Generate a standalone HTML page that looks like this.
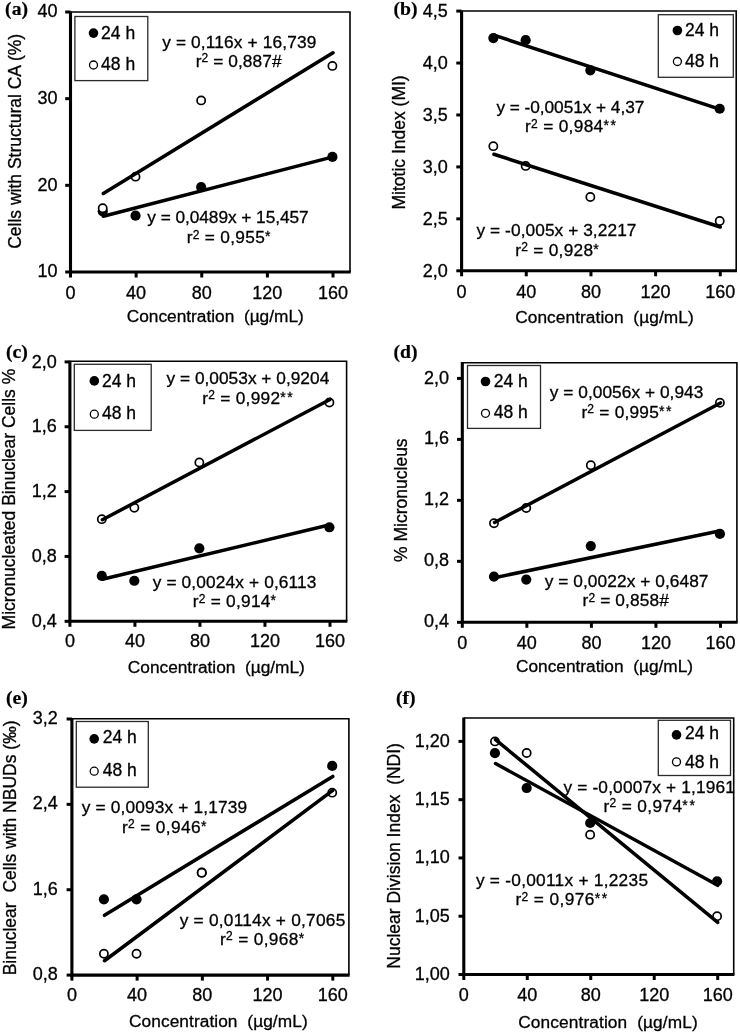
<!DOCTYPE html>
<html><head><meta charset="utf-8">
<style>
html,body{margin:0;padding:0;background:#fff;}
body{width:740px;height:1034px;overflow:hidden;}
svg{display:block;will-change:transform;}
text{font-family:"Liberation Sans",sans-serif;fill:#000;stroke:#000;stroke-width:0.3px;}
text.pl{font-family:"Liberation Serif",serif;font-weight:bold;stroke-width:0.2px;}
</style></head><body>
<svg width="740" height="1034" viewBox="0 0 740 1034">
<rect width="740" height="1034" fill="#fff"/>
<g id="pa">
<path d="M70.50 12.00 H350.00 V272.00" fill="none" stroke="#000" stroke-width="1.6"/>
<path d="M70.50 11.40 V272.00 H350.75" fill="none" stroke="#000" stroke-width="3.1"/>
<line x1="65.20" y1="272.00" x2="70.50" y2="272.00" stroke="#000" stroke-width="3"/>
<text x="57.50" y="277.40" font-size="18" text-anchor="end">10</text>
<line x1="65.20" y1="185.33" x2="70.50" y2="185.33" stroke="#000" stroke-width="3"/>
<text x="57.50" y="190.73" font-size="18" text-anchor="end">20</text>
<line x1="65.20" y1="98.67" x2="70.50" y2="98.67" stroke="#000" stroke-width="3"/>
<text x="57.50" y="104.07" font-size="18" text-anchor="end">30</text>
<line x1="65.20" y1="12.00" x2="70.50" y2="12.00" stroke="#000" stroke-width="3"/>
<text x="57.50" y="17.40" font-size="18" text-anchor="end">40</text>
<line x1="70.50" y1="272.00" x2="70.50" y2="277.50" stroke="#000" stroke-width="3"/>
<text x="70.50" y="298.60" font-size="18" text-anchor="middle">0</text>
<line x1="136.12" y1="272.00" x2="136.12" y2="277.50" stroke="#000" stroke-width="3"/>
<text x="136.12" y="298.60" font-size="18" text-anchor="middle">40</text>
<line x1="201.75" y1="272.00" x2="201.75" y2="277.50" stroke="#000" stroke-width="3"/>
<text x="201.75" y="298.60" font-size="18" text-anchor="middle">80</text>
<line x1="267.38" y1="272.00" x2="267.38" y2="277.50" stroke="#000" stroke-width="3"/>
<text x="267.38" y="298.60" font-size="18" text-anchor="middle">120</text>
<line x1="333.00" y1="272.00" x2="333.00" y2="277.50" stroke="#000" stroke-width="3"/>
<text x="333.00" y="298.60" font-size="18" text-anchor="middle">160</text>
<text x="126.70" y="321.90" font-size="17.3">Concentration&#160;&#160;(µg/mL)</text>
<text transform="translate(20.80,248.80) rotate(-90)" font-size="17.5" x="0" y="0">Cells with Structural CA (%)</text>
<text x="5.10" y="15.20" class="pl" font-size="19.7">(a)</text>
<circle cx="102.71" cy="211.33" r="5.1" fill="#000"/>
<circle cx="135.53" cy="215.67" r="5.1" fill="#000"/>
<circle cx="201.15" cy="187.07" r="5.1" fill="#000"/>
<circle cx="332.40" cy="156.91" r="5.1" fill="#000"/>
<circle cx="102.71" cy="208.13" r="4.1" fill="#fff" stroke="#000" stroke-width="1.7"/>
<circle cx="135.53" cy="176.67" r="4.1" fill="#fff" stroke="#000" stroke-width="1.7"/>
<circle cx="201.15" cy="100.40" r="4.1" fill="#fff" stroke="#000" stroke-width="1.7"/>
<circle cx="332.40" cy="65.91" r="4.1" fill="#fff" stroke="#000" stroke-width="1.7"/>
<line x1="103.31" y1="193.49" x2="333.00" y2="52.74" stroke="#000" stroke-width="3.5" stroke-linecap="round"/>
<line x1="103.31" y1="216.23" x2="333.00" y2="156.90" stroke="#000" stroke-width="3.5" stroke-linecap="round"/>
<rect x="74.90" y="16.50" width="72.90" height="64.10" fill="#fff" stroke="#2a2a2a" stroke-width="1.3"/>
<circle cx="93.50" cy="33.10" r="4.8" fill="#000"/>
<circle cx="93.50" cy="65.00" r="4.0" fill="#fff" stroke="#000" stroke-width="1.3"/>
<text x="101.10" y="38.50" font-size="17.5">24 h</text>
<text x="101.10" y="70.40" font-size="17.5">48 h</text>
<text x="162.20" y="47.60" font-size="17.3" textLength="154.09" lengthAdjust="spacing">y = 0,116x + 16,739</text>
<text x="195.69" y="66.70" font-size="17.3" textLength="85.85" lengthAdjust="spacing">r<tspan font-size="12.0" dy="-4.4">2</tspan><tspan dy="4.4"> = 0,887#</tspan></text>
<text x="147.30" y="223.20" font-size="17.3" textLength="161.39" lengthAdjust="spacing">y = 0,0489x + 15,457</text>
<text x="186.69" y="243.00" font-size="17.3" textLength="85.13" lengthAdjust="spacing">r<tspan font-size="12.0" dy="-4.4">2</tspan><tspan dy="4.4"> = 0,955</tspan><tspan font-size="14.0" dy="-1.8" letter-spacing="1.25">*</tspan></text>
</g>
<g id="pb">
<path d="M461.60 11.00 H736.20 V270.80" fill="none" stroke="#000" stroke-width="1.6"/>
<path d="M461.60 10.40 V270.80 H736.95" fill="none" stroke="#000" stroke-width="3.1"/>
<line x1="456.30" y1="270.80" x2="461.60" y2="270.80" stroke="#000" stroke-width="3"/>
<text x="447.80" y="276.60" font-size="18" text-anchor="end">2,0</text>
<line x1="456.30" y1="218.86" x2="461.60" y2="218.86" stroke="#000" stroke-width="3"/>
<text x="447.80" y="224.66" font-size="18" text-anchor="end">2,5</text>
<line x1="456.30" y1="166.92" x2="461.60" y2="166.92" stroke="#000" stroke-width="3"/>
<text x="447.80" y="172.72" font-size="18" text-anchor="end">3,0</text>
<line x1="456.30" y1="114.98" x2="461.60" y2="114.98" stroke="#000" stroke-width="3"/>
<text x="447.80" y="120.78" font-size="18" text-anchor="end">3,5</text>
<line x1="456.30" y1="63.04" x2="461.60" y2="63.04" stroke="#000" stroke-width="3"/>
<text x="447.80" y="68.84" font-size="18" text-anchor="end">4,0</text>
<line x1="456.30" y1="11.10" x2="461.60" y2="11.10" stroke="#000" stroke-width="3"/>
<text x="447.80" y="16.90" font-size="18" text-anchor="end">4,5</text>
<line x1="461.60" y1="270.80" x2="461.60" y2="276.30" stroke="#000" stroke-width="3"/>
<text x="461.60" y="297.60" font-size="18" text-anchor="middle">0</text>
<line x1="526.27" y1="270.80" x2="526.27" y2="276.30" stroke="#000" stroke-width="3"/>
<text x="526.27" y="297.60" font-size="18" text-anchor="middle">40</text>
<line x1="590.95" y1="270.80" x2="590.95" y2="276.30" stroke="#000" stroke-width="3"/>
<text x="590.95" y="297.60" font-size="18" text-anchor="middle">80</text>
<line x1="655.62" y1="270.80" x2="655.62" y2="276.30" stroke="#000" stroke-width="3"/>
<text x="655.62" y="297.60" font-size="18" text-anchor="middle">120</text>
<line x1="720.30" y1="270.80" x2="720.30" y2="276.30" stroke="#000" stroke-width="3"/>
<text x="720.30" y="297.60" font-size="18" text-anchor="middle">160</text>
<text x="515.20" y="323.10" font-size="17.3" textLength="178.46" lengthAdjust="spacing">Concentration&#160;&#160;(µg/mL)</text>
<text transform="translate(405.00,209.50) rotate(-90)" font-size="17.5" x="0" y="0">Mitotic Index (MI)</text>
<text x="393.40" y="15.30" class="pl" font-size="19.7">(b)</text>
<circle cx="493.34" cy="38.11" r="5.1" fill="#000"/>
<circle cx="525.67" cy="40.19" r="5.1" fill="#000"/>
<circle cx="590.35" cy="70.31" r="5.1" fill="#000"/>
<circle cx="719.70" cy="108.75" r="5.1" fill="#000"/>
<circle cx="493.34" cy="146.14" r="4.1" fill="#fff" stroke="#000" stroke-width="1.7"/>
<circle cx="525.67" cy="165.88" r="4.1" fill="#fff" stroke="#000" stroke-width="1.7"/>
<circle cx="590.35" cy="197.05" r="4.1" fill="#fff" stroke="#000" stroke-width="1.7"/>
<circle cx="719.70" cy="220.94" r="4.1" fill="#fff" stroke="#000" stroke-width="1.7"/>
<line x1="493.94" y1="35.20" x2="720.30" y2="109.37" stroke="#000" stroke-width="3.5" stroke-linecap="round"/>
<line x1="493.94" y1="154.28" x2="720.30" y2="226.99" stroke="#000" stroke-width="3.5" stroke-linecap="round"/>
<rect x="658.30" y="14.70" width="75.00" height="62.60" fill="#fff" stroke="#2a2a2a" stroke-width="1.3"/>
<circle cx="677.40" cy="30.50" r="4.8" fill="#000"/>
<circle cx="677.40" cy="61.50" r="4.0" fill="#fff" stroke="#000" stroke-width="1.3"/>
<text x="685.00" y="36.00" font-size="17.5">24 h</text>
<text x="685.00" y="67.00" font-size="17.5">48 h</text>
<text x="496.50" y="113.00" font-size="17.3" textLength="147.81" lengthAdjust="spacing">y = -0,0051x + 4,37</text>
<text x="524.99" y="132.10" font-size="17.3" textLength="92.23" lengthAdjust="spacing">r<tspan font-size="12.0" dy="-4.4">2</tspan><tspan dy="4.4"> = 0,984</tspan><tspan font-size="14.0" dy="-1.8" letter-spacing="1.25">**</tspan></text>
<text x="476.50" y="236.10" font-size="17.3" textLength="159.94" lengthAdjust="spacing">y = -0,005x + 3,2217</text>
<text x="515.19" y="255.50" font-size="17.3" textLength="84.83" lengthAdjust="spacing">r<tspan font-size="12.0" dy="-4.4">2</tspan><tspan dy="4.4"> = 0,928</tspan><tspan font-size="14.0" dy="-1.8" letter-spacing="1.25">*</tspan></text>
</g>
<g id="pc">
<path d="M69.90 361.30 H346.60 V621.30" fill="none" stroke="#000" stroke-width="1.6"/>
<path d="M69.90 360.70 V621.30 H347.35" fill="none" stroke="#000" stroke-width="3.1"/>
<line x1="64.60" y1="621.30" x2="69.90" y2="621.30" stroke="#000" stroke-width="3"/>
<text x="56.80" y="627.00" font-size="18" text-anchor="end">0,4</text>
<line x1="64.60" y1="556.45" x2="69.90" y2="556.45" stroke="#000" stroke-width="3"/>
<text x="56.80" y="562.15" font-size="18" text-anchor="end">0,8</text>
<line x1="64.60" y1="491.60" x2="69.90" y2="491.60" stroke="#000" stroke-width="3"/>
<text x="56.80" y="497.30" font-size="18" text-anchor="end">1,2</text>
<line x1="64.60" y1="426.75" x2="69.90" y2="426.75" stroke="#000" stroke-width="3"/>
<text x="56.80" y="432.45" font-size="18" text-anchor="end">1,6</text>
<line x1="64.60" y1="361.90" x2="69.90" y2="361.90" stroke="#000" stroke-width="3"/>
<text x="56.80" y="367.60" font-size="18" text-anchor="end">2,0</text>
<line x1="69.90" y1="621.30" x2="69.90" y2="626.80" stroke="#000" stroke-width="3"/>
<text x="69.90" y="647.40" font-size="18" text-anchor="middle">0</text>
<line x1="134.93" y1="621.30" x2="134.93" y2="626.80" stroke="#000" stroke-width="3"/>
<text x="134.93" y="647.40" font-size="18" text-anchor="middle">40</text>
<line x1="199.95" y1="621.30" x2="199.95" y2="626.80" stroke="#000" stroke-width="3"/>
<text x="199.95" y="647.40" font-size="18" text-anchor="middle">80</text>
<line x1="264.98" y1="621.30" x2="264.98" y2="626.80" stroke="#000" stroke-width="3"/>
<text x="264.98" y="647.40" font-size="18" text-anchor="middle">120</text>
<line x1="330.00" y1="621.30" x2="330.00" y2="626.80" stroke="#000" stroke-width="3"/>
<text x="330.00" y="647.40" font-size="18" text-anchor="middle">160</text>
<text x="127.80" y="672.70" font-size="17.3">Concentration&#160;&#160;(µg/mL)</text>
<text transform="translate(15.30,629.40) rotate(-90)" font-size="17.5" x="0" y="0">Micronucleated Binuclear Cells %</text>
<text x="6.00" y="358.10" class="pl" font-size="19.7">(c)</text>
<circle cx="101.81" cy="575.90" r="5.1" fill="#000"/>
<circle cx="134.33" cy="580.77" r="5.1" fill="#000"/>
<circle cx="199.35" cy="548.34" r="5.1" fill="#000"/>
<circle cx="329.40" cy="527.27" r="5.1" fill="#000"/>
<circle cx="101.81" cy="519.16" r="4.1" fill="#fff" stroke="#000" stroke-width="1.7"/>
<circle cx="134.33" cy="507.81" r="4.1" fill="#fff" stroke="#000" stroke-width="1.7"/>
<circle cx="199.35" cy="462.42" r="4.1" fill="#fff" stroke="#000" stroke-width="1.7"/>
<circle cx="329.40" cy="402.43" r="4.1" fill="#fff" stroke="#000" stroke-width="1.7"/>
<line x1="102.41" y1="519.74" x2="330.00" y2="399.45" stroke="#000" stroke-width="3.5" stroke-linecap="round"/>
<line x1="102.41" y1="579.26" x2="330.00" y2="524.79" stroke="#000" stroke-width="3.5" stroke-linecap="round"/>
<rect x="74.30" y="364.30" width="76.90" height="66.10" fill="#fff" stroke="#2a2a2a" stroke-width="1.3"/>
<circle cx="94.30" cy="380.90" r="4.8" fill="#000"/>
<circle cx="94.30" cy="414.20" r="4.0" fill="#fff" stroke="#000" stroke-width="1.3"/>
<text x="102.00" y="386.60" font-size="17.5">24 h</text>
<text x="102.00" y="419.40" font-size="17.5">48 h</text>
<text x="166.50" y="384.00" font-size="17.3" textLength="162.75" lengthAdjust="spacing">y = 0,0053x + 0,9204</text>
<text x="202.29" y="403.80" font-size="17.3" textLength="91.63" lengthAdjust="spacing">r<tspan font-size="12.0" dy="-4.4">2</tspan><tspan dy="4.4"> = 0,992</tspan><tspan font-size="14.0" dy="-1.8" letter-spacing="1.25">**</tspan></text>
<text x="152.70" y="587.80" font-size="17.3" textLength="163.72" lengthAdjust="spacing">y = 0,0024x + 0,6113</text>
<text x="192.69" y="606.90" font-size="17.3" textLength="84.63" lengthAdjust="spacing">r<tspan font-size="12.0" dy="-4.4">2</tspan><tspan dy="4.4"> = 0,914</tspan><tspan font-size="14.0" dy="-1.8" letter-spacing="1.25">*</tspan></text>
</g>
<g id="pd">
<path d="M462.30 362.70 H736.90 V622.30" fill="none" stroke="#000" stroke-width="1.6"/>
<path d="M462.30 362.10 V622.30 H737.65" fill="none" stroke="#000" stroke-width="3.1"/>
<line x1="457.00" y1="622.30" x2="462.30" y2="622.30" stroke="#000" stroke-width="3"/>
<text x="449.10" y="627.40" font-size="18" text-anchor="end">0,4</text>
<line x1="457.00" y1="561.32" x2="462.30" y2="561.32" stroke="#000" stroke-width="3"/>
<text x="449.10" y="566.42" font-size="18" text-anchor="end">0,8</text>
<line x1="457.00" y1="500.35" x2="462.30" y2="500.35" stroke="#000" stroke-width="3"/>
<text x="449.10" y="505.45" font-size="18" text-anchor="end">1,2</text>
<line x1="457.00" y1="439.38" x2="462.30" y2="439.38" stroke="#000" stroke-width="3"/>
<text x="449.10" y="444.48" font-size="18" text-anchor="end">1,6</text>
<line x1="457.00" y1="378.40" x2="462.30" y2="378.40" stroke="#000" stroke-width="3"/>
<text x="449.10" y="383.50" font-size="18" text-anchor="end">2,0</text>
<line x1="462.30" y1="622.30" x2="462.30" y2="627.80" stroke="#000" stroke-width="3"/>
<text x="462.30" y="649.00" font-size="18" text-anchor="middle">0</text>
<line x1="526.85" y1="622.30" x2="526.85" y2="627.80" stroke="#000" stroke-width="3"/>
<text x="526.85" y="649.00" font-size="18" text-anchor="middle">40</text>
<line x1="591.40" y1="622.30" x2="591.40" y2="627.80" stroke="#000" stroke-width="3"/>
<text x="591.40" y="649.00" font-size="18" text-anchor="middle">80</text>
<line x1="655.95" y1="622.30" x2="655.95" y2="627.80" stroke="#000" stroke-width="3"/>
<text x="655.95" y="649.00" font-size="18" text-anchor="middle">120</text>
<line x1="720.50" y1="622.30" x2="720.50" y2="627.80" stroke="#000" stroke-width="3"/>
<text x="720.50" y="649.00" font-size="18" text-anchor="middle">160</text>
<text x="516.00" y="671.90" font-size="17.3">Concentration&#160;&#160;(µg/mL)</text>
<text transform="translate(406.70,561.90) rotate(-90)" font-size="17.5" x="0" y="0">% Micronucleus</text>
<text x="393.40" y="358.10" class="pl" font-size="19.7">(d)</text>
<circle cx="493.97" cy="576.57" r="5.1" fill="#000"/>
<circle cx="526.25" cy="579.62" r="5.1" fill="#000"/>
<circle cx="590.80" cy="546.08" r="5.1" fill="#000"/>
<circle cx="719.90" cy="533.89" r="5.1" fill="#000"/>
<circle cx="493.97" cy="523.22" r="4.1" fill="#fff" stroke="#000" stroke-width="1.7"/>
<circle cx="526.25" cy="507.97" r="4.1" fill="#fff" stroke="#000" stroke-width="1.7"/>
<circle cx="590.80" cy="465.29" r="4.1" fill="#fff" stroke="#000" stroke-width="1.7"/>
<circle cx="719.90" cy="402.79" r="4.1" fill="#fff" stroke="#000" stroke-width="1.7"/>
<line x1="494.57" y1="522.45" x2="720.50" y2="402.94" stroke="#000" stroke-width="3.5" stroke-linecap="round"/>
<line x1="494.57" y1="577.68" x2="720.50" y2="530.73" stroke="#000" stroke-width="3.5" stroke-linecap="round"/>
<rect x="467.50" y="365.50" width="73.00" height="62.90" fill="#fff" stroke="#2a2a2a" stroke-width="1.3"/>
<circle cx="485.50" cy="381.50" r="4.8" fill="#000"/>
<circle cx="485.50" cy="413.30" r="4.0" fill="#fff" stroke="#000" stroke-width="1.3"/>
<text x="493.80" y="386.50" font-size="17.5">24 h</text>
<text x="493.80" y="417.80" font-size="17.5">48 h</text>
<text x="549.70" y="397.90" font-size="17.3" textLength="153.66" lengthAdjust="spacing">y = 0,0056x + 0,943</text>
<text x="581.39" y="417.50" font-size="17.3" textLength="91.23" lengthAdjust="spacing">r<tspan font-size="12.0" dy="-4.4">2</tspan><tspan dy="4.4"> = 0,995</tspan><tspan font-size="14.0" dy="-1.8" letter-spacing="1.25">**</tspan></text>
<text x="544.70" y="587.00" font-size="17.3" textLength="163.79" lengthAdjust="spacing">y = 0,0022x + 0,6487</text>
<text x="582.49" y="606.10" font-size="17.3" textLength="86.45" lengthAdjust="spacing">r<tspan font-size="12.0" dy="-4.4">2</tspan><tspan dy="4.4"> = 0,858#</tspan></text>
</g>
<g id="pe">
<path d="M71.90 718.70 H348.90 V975.10" fill="none" stroke="#000" stroke-width="1.6"/>
<path d="M71.90 718.10 V975.10 H349.65" fill="none" stroke="#000" stroke-width="3.1"/>
<line x1="66.60" y1="975.10" x2="71.90" y2="975.10" stroke="#000" stroke-width="3"/>
<text x="57.90" y="980.10" font-size="18" text-anchor="end">0,8</text>
<line x1="66.60" y1="889.73" x2="71.90" y2="889.73" stroke="#000" stroke-width="3"/>
<text x="57.90" y="894.73" font-size="18" text-anchor="end">1,6</text>
<line x1="66.60" y1="804.37" x2="71.90" y2="804.37" stroke="#000" stroke-width="3"/>
<text x="57.90" y="809.37" font-size="18" text-anchor="end">2,4</text>
<line x1="66.60" y1="719.00" x2="71.90" y2="719.00" stroke="#000" stroke-width="3"/>
<text x="57.90" y="724.00" font-size="18" text-anchor="end">3,2</text>
<line x1="71.90" y1="975.10" x2="71.90" y2="980.60" stroke="#000" stroke-width="3"/>
<text x="71.90" y="1001.10" font-size="18" text-anchor="middle">0</text>
<line x1="137.12" y1="975.10" x2="137.12" y2="980.60" stroke="#000" stroke-width="3"/>
<text x="137.12" y="1001.10" font-size="18" text-anchor="middle">40</text>
<line x1="202.35" y1="975.10" x2="202.35" y2="980.60" stroke="#000" stroke-width="3"/>
<text x="202.35" y="1001.10" font-size="18" text-anchor="middle">80</text>
<line x1="267.57" y1="975.10" x2="267.57" y2="980.60" stroke="#000" stroke-width="3"/>
<text x="267.57" y="1001.10" font-size="18" text-anchor="middle">120</text>
<line x1="332.80" y1="975.10" x2="332.80" y2="980.60" stroke="#000" stroke-width="3"/>
<text x="332.80" y="1001.10" font-size="18" text-anchor="middle">160</text>
<text x="129.00" y="1026.70" font-size="17.3" textLength="178.66" lengthAdjust="spacing">Concentration&#160;&#160;(µg/mL)</text>
<text transform="translate(15.90,975.30) rotate(-90)" font-size="17.5" x="0" y="0">Binuclear&#160; Cells with NBUDs (‰)</text>
<text x="6.00" y="704.10" class="pl" font-size="19.7">(e)</text>
<circle cx="103.91" cy="899.34" r="5.1" fill="#000"/>
<circle cx="136.53" cy="899.34" r="5.1" fill="#000"/>
<circle cx="201.75" cy="872.66" r="5.1" fill="#000"/>
<circle cx="332.20" cy="765.95" r="5.1" fill="#000"/>
<circle cx="103.91" cy="953.76" r="4.1" fill="#fff" stroke="#000" stroke-width="1.7"/>
<circle cx="136.53" cy="953.76" r="4.1" fill="#fff" stroke="#000" stroke-width="1.7"/>
<circle cx="201.75" cy="872.66" r="4.1" fill="#fff" stroke="#000" stroke-width="1.7"/>
<circle cx="332.20" cy="792.63" r="4.1" fill="#fff" stroke="#000" stroke-width="1.7"/>
<line x1="104.51" y1="915.35" x2="332.80" y2="776.42" stroke="#000" stroke-width="3.5" stroke-linecap="round"/>
<line x1="104.51" y1="960.75" x2="332.80" y2="790.44" stroke="#000" stroke-width="3.5" stroke-linecap="round"/>
<rect x="76.30" y="721.50" width="72.00" height="65.70" fill="#fff" stroke="#2a2a2a" stroke-width="1.3"/>
<circle cx="94.20" cy="738.90" r="4.8" fill="#000"/>
<circle cx="94.20" cy="771.20" r="4.0" fill="#fff" stroke="#000" stroke-width="1.3"/>
<text x="102.70" y="743.40" font-size="17.5">24 h</text>
<text x="102.70" y="775.80" font-size="17.5">48 h</text>
<text x="81.70" y="813.30" font-size="17.3" textLength="165.49" lengthAdjust="spacing">y = 0,0093x + 1,1739</text>
<text x="121.89" y="832.50" font-size="17.3" textLength="85.73" lengthAdjust="spacing">r<tspan font-size="12.0" dy="-4.4">2</tspan><tspan dy="4.4"> = 0,946</tspan><tspan font-size="14.0" dy="-1.8" letter-spacing="1.25">*</tspan></text>
<text x="179.70" y="925.80" font-size="17.3" textLength="165.55" lengthAdjust="spacing">y = 0,0114x + 0,7065</text>
<text x="219.89" y="944.80" font-size="17.3" textLength="85.53" lengthAdjust="spacing">r<tspan font-size="12.0" dy="-4.4">2</tspan><tspan dy="4.4"> = 0,968</tspan><tspan font-size="14.0" dy="-1.8" letter-spacing="1.25">*</tspan></text>
</g>
<g id="pf">
<path d="M463.80 718.00 H733.70 V974.50" fill="none" stroke="#000" stroke-width="1.6"/>
<path d="M463.80 717.40 V974.50 H734.45" fill="none" stroke="#000" stroke-width="3.1"/>
<line x1="458.50" y1="974.50" x2="463.80" y2="974.50" stroke="#000" stroke-width="3"/>
<text x="449.90" y="980.00" font-size="18" text-anchor="end">1,00</text>
<line x1="458.50" y1="916.22" x2="463.80" y2="916.22" stroke="#000" stroke-width="3"/>
<text x="449.90" y="921.72" font-size="18" text-anchor="end">1,05</text>
<line x1="458.50" y1="857.95" x2="463.80" y2="857.95" stroke="#000" stroke-width="3"/>
<text x="449.90" y="863.45" font-size="18" text-anchor="end">1,10</text>
<line x1="458.50" y1="799.68" x2="463.80" y2="799.68" stroke="#000" stroke-width="3"/>
<text x="449.90" y="805.18" font-size="18" text-anchor="end">1,15</text>
<line x1="458.50" y1="741.40" x2="463.80" y2="741.40" stroke="#000" stroke-width="3"/>
<text x="449.90" y="746.90" font-size="18" text-anchor="end">1,20</text>
<line x1="463.80" y1="974.50" x2="463.80" y2="980.00" stroke="#000" stroke-width="3"/>
<text x="463.80" y="1001.10" font-size="18" text-anchor="middle">0</text>
<line x1="527.27" y1="974.50" x2="527.27" y2="980.00" stroke="#000" stroke-width="3"/>
<text x="527.27" y="1001.10" font-size="18" text-anchor="middle">40</text>
<line x1="590.75" y1="974.50" x2="590.75" y2="980.00" stroke="#000" stroke-width="3"/>
<text x="590.75" y="1001.10" font-size="18" text-anchor="middle">80</text>
<line x1="654.23" y1="974.50" x2="654.23" y2="980.00" stroke="#000" stroke-width="3"/>
<text x="654.23" y="1001.10" font-size="18" text-anchor="middle">120</text>
<line x1="717.70" y1="974.50" x2="717.70" y2="980.00" stroke="#000" stroke-width="3"/>
<text x="717.70" y="1001.10" font-size="18" text-anchor="middle">160</text>
<text x="518.20" y="1028.10" font-size="17.3" textLength="179.56" lengthAdjust="spacing">Concentration&#160;&#160;(µg/mL)</text>
<text transform="translate(400.10,968.70) rotate(-90)" font-size="17.5" x="0" y="0">Nuclear Division Index&#160; (NDI)</text>
<text x="396.00" y="704.30" class="pl" font-size="19.7">(f)</text>
<circle cx="494.94" cy="753.05" r="5.1" fill="#000"/>
<circle cx="526.67" cy="788.02" r="5.1" fill="#000"/>
<circle cx="590.15" cy="822.99" r="5.1" fill="#000"/>
<circle cx="717.10" cy="881.26" r="5.1" fill="#000"/>
<circle cx="494.94" cy="741.40" r="4.1" fill="#fff" stroke="#000" stroke-width="1.7"/>
<circle cx="526.67" cy="753.05" r="4.1" fill="#fff" stroke="#000" stroke-width="1.7"/>
<circle cx="590.15" cy="834.64" r="4.1" fill="#fff" stroke="#000" stroke-width="1.7"/>
<circle cx="717.10" cy="916.22" r="4.1" fill="#fff" stroke="#000" stroke-width="1.7"/>
<line x1="495.54" y1="763.54" x2="717.70" y2="885.34" stroke="#000" stroke-width="3.5" stroke-linecap="round"/>
<line x1="495.54" y1="739.65" x2="717.70" y2="922.40" stroke="#000" stroke-width="3.5" stroke-linecap="round"/>
<rect x="658.30" y="720.30" width="72.20" height="55.20" fill="#fff" stroke="#2a2a2a" stroke-width="1.3"/>
<circle cx="676.50" cy="734.90" r="4.8" fill="#000"/>
<circle cx="676.50" cy="761.90" r="4.0" fill="#fff" stroke="#000" stroke-width="1.3"/>
<text x="685.00" y="739.40" font-size="17.5">24 h</text>
<text x="685.00" y="767.70" font-size="17.5">48 h</text>
<text x="563.50" y="792.60" font-size="17.3" textLength="171.35" lengthAdjust="spacing">y = -0,0007x + 1,1961</text>
<text x="603.49" y="811.50" font-size="17.3" textLength="92.63" lengthAdjust="spacing">r<tspan font-size="12.0" dy="-4.4">2</tspan><tspan dy="4.4"> = 0,974</tspan><tspan font-size="14.0" dy="-1.8" letter-spacing="1.25">**</tspan></text>
<text x="475.90" y="885.80" font-size="17.3" textLength="172.10" lengthAdjust="spacing">y = -0,0011x + 1,2235</text>
<text x="515.39" y="905.00" font-size="17.3" textLength="93.03" lengthAdjust="spacing">r<tspan font-size="12.0" dy="-4.4">2</tspan><tspan dy="4.4"> = 0,976</tspan><tspan font-size="14.0" dy="-1.8" letter-spacing="1.25">**</tspan></text>
</g>
</svg>
</body></html>
